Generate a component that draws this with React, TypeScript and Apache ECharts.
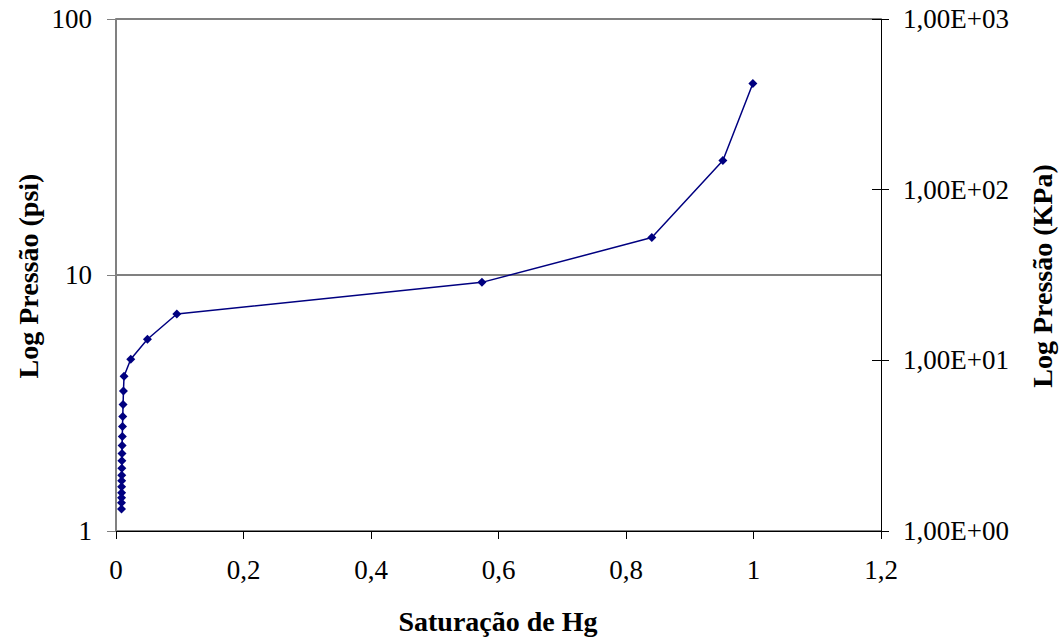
import React, { useEffect, useRef } from "react";
import * as echarts from "echarts";

const saturation = [
  0.0086, 0.0086, 0.0087, 0.0088, 0.0088, 0.0089, 0.009, 0.0091, 0.0092,
  0.0094, 0.0096, 0.0099, 0.0102, 0.0106, 0.0111, 0.0117, 0.0126, 0.0137,
  0.0231, 0.0493, 0.0954, 0.574, 0.8405, 0.952, 0.999,
];
const pressurePsi = [
  1.22, 1.29, 1.35, 1.41, 1.49, 1.57, 1.65, 1.76, 1.88,
  2.01, 2.16, 2.34, 2.56, 2.8, 3.12, 3.52, 4.02, 4.69,
  4.69, 5.61, 7.04, 9.36, 14.0, 28.0, 56.0,
];
const xTicks = [0, 0.2, 0.4, 0.6, 0.8, 1, 1.2];
const leftTicks = [1, 10, 100];
const rightTicks = [1, 10, 100, 1000];

const xTitle = "Saturação de Hg";
const leftTitle = "Log Pressão (psi)";
const rightTitle = "Log Pressão (KPa)";

const FONT = "'Liberation Serif', 'Times New Roman', serif";
const LABEL_SIZE = 27;
const TITLE_SIZE = 28;

export default function App() {
  const ref = useRef<HTMLDivElement>(null);
  useEffect(() => {
    if (!ref.current) return;
    const chart = echarts.init(ref.current, undefined, { renderer: "svg" });
    const pts = saturation.map((s, i) => [s, pressurePsi[i]]);
    pts.splice(17, 1);
    const fmtSci = (v: number) => {
      const e = Math.round(Math.log10(v));
      return "1,00E+" + (e < 10 ? "0" + e : String(e));
    };
    chart.setOption({
      animation: false,
      backgroundColor: "#ffffff",
      textStyle: { fontFamily: FONT },
      grid: { left: 116, right: 180, top: 19, bottom: 108, containLabel: false },
      xAxis: {
        type: "value",
        min: xTicks[0],
        max: xTicks[xTicks.length - 1],
        interval: 0.2,
        axisLine: { show: true, onZero: false, lineStyle: { color: "#000000", width: 1 } },
        axisTick: { show: true, inside: false, length: 8, lineStyle: { color: "#000000" } },
        axisLabel: {
          margin: 25,
          color: "#000000",
          fontFamily: FONT,
          fontSize: LABEL_SIZE,
          formatter: (v: number) => String(Number(v.toFixed(1))).replace(".", ","),
        },
        splitLine: { show: false },
      },
      yAxis: [
        {
          type: "log",
          logBase: 10,
          min: leftTicks[0],
          max: leftTicks[leftTicks.length - 1],
          position: "left",
          axisLine: { show: true, lineStyle: { color: "#808080", width: 2 } },
          axisTick: { show: true, inside: false, length: 9, lineStyle: { color: "#808080" } },
          axisLabel: {
            margin: 24,
            color: "#000000",
            fontFamily: FONT,
            fontSize: LABEL_SIZE,
            formatter: (v: number) => String(Math.round(v)),
          },
          splitLine: { show: true, lineStyle: { color: "#808080", width: 2 } },
          minorTick: { show: false },
        },
        {
          type: "log",
          logBase: 10,
          min: rightTicks[0],
          max: rightTicks[rightTicks.length - 1],
          position: "right",
          axisLine: { show: true, lineStyle: { color: "#000000", width: 1 } },
          axisTick: { show: true, inside: false, length: 8, lineStyle: { color: "#000000" } },
          axisLabel: {
            margin: 22,
            color: "#000000",
            fontFamily: FONT,
            fontSize: LABEL_SIZE,
            formatter: fmtSci,
          },
          splitLine: { show: false },
        },
        {
          type: "log",
          logBase: 10,
          min: rightTicks[0],
          max: rightTicks[rightTicks.length - 1],
          position: "right",
          axisLine: { show: false },
          axisTick: { show: true, inside: true, length: 9, lineStyle: { color: "#000000" } },
          axisLabel: { show: false },
          splitLine: { show: false },
        },
      ],
      graphic: [
        {
          type: "text",
          x: 498,
          y: 621,
          style: {
            text: xTitle,
            align: "center",
            verticalAlign: "middle",
            font: `bold ${TITLE_SIZE}px ${FONT}`,
            fill: "#000000",
          },
        },
        {
          type: "text",
          x: 28,
          y: 276,
          rotation: Math.PI / 2,
          style: {
            text: leftTitle,
            align: "center",
            verticalAlign: "middle",
            font: `bold ${TITLE_SIZE}px ${FONT}`,
            fill: "#000000",
          },
        },
        {
          type: "text",
          x: 1042,
          y: 276,
          rotation: Math.PI / 2,
          style: {
            text: rightTitle,
            align: "center",
            verticalAlign: "middle",
            font: `bold ${TITLE_SIZE}px ${FONT}`,
            fill: "#000000",
          },
        },
      ],
      series: [
        {
          type: "line",
          yAxisIndex: 0,
          data: pts,
          symbol: "diamond",
          symbolSize: 9,
          lineStyle: { color: "#000080", width: 1.5 },
          itemStyle: { color: "#000080" },
          silent: true,
        },
      ],
    });
    return () => chart.dispose();
  }, []);
  return <div ref={ref} style={{ width: 1061, height: 639, position: "absolute", left: 0, top: 0 }} />;
}
